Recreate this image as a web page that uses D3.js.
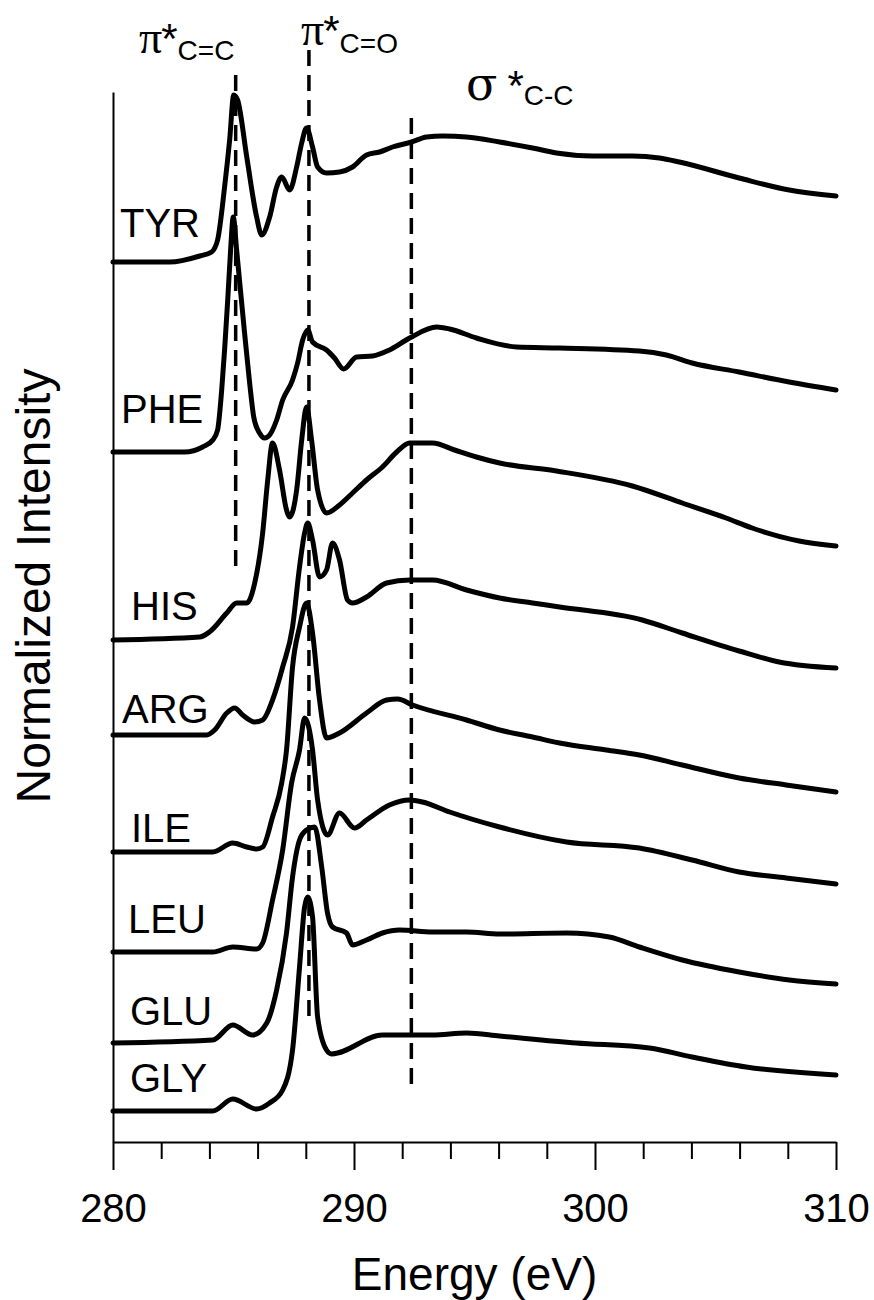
<!DOCTYPE html>
<html>
<head>
<meta charset="utf-8">
<script src="https://cdnjs.cloudflare.com/ajax/libs/d3/7.8.5/d3.min.js"></script>
<style>
  body { margin: 0; background: #fff; }
  text { font-family: "Liberation Sans", Arial, Helvetica, sans-serif; fill: #000; }
</style>
</head>
<body>
<div id="chart"></div>
<script>
// C 1s spectra of amino acids, stacked with a vertical offset
// Each series: [energy (eV), intensity above its own baseline]
const tyr = [
  [280.0, 0.00], [282.35, 0.00], [283.6, 0.06], [284.09, 0.10], [284.34, 0.22],
  [284.63, 0.75], [284.84, 1.22], [285.01, 1.67], [285.17, 1.62], [285.55, 1.05],
  [285.96, 0.45], [286.17, 0.27], [286.5, 0.45], [286.79, 0.75], [287.0, 0.85],
  [287.33, 0.72], [287.62, 0.95], [287.83, 1.19], [288.03, 1.34], [288.28, 1.15],
  [288.49, 0.95], [288.86, 0.89], [289.4, 0.90], [289.94, 0.95], [290.52, 1.07],
  [291.06, 1.10], [291.6, 1.15], [292.39, 1.20], [293.01, 1.25], [293.68, 1.26],
  [294.67, 1.25], [296.04, 1.20], [297.41, 1.14], [298.4, 1.09], [299.9, 1.06],
  [301.55, 1.06], [302.67, 1.04], [303.5, 1.00], [305.98, 0.84], [308.06, 0.72],
  [310.0, 0.66]
];
const phe = [
  [280.0, 0.00], [282.97, 0.00], [283.72, 0.05], [284.14, 0.12], [284.34, 0.22],
  [284.51, 0.62], [284.63, 1.02], [284.76, 1.52], [284.88, 2.02], [284.99, 2.35],
  [285.13, 2.02], [285.26, 1.69], [285.46, 1.19], [285.67, 0.69], [285.84, 0.35],
  [286.08, 0.19], [286.29, 0.14], [286.5, 0.17], [286.79, 0.32], [287.04, 0.52],
  [287.45, 0.72], [287.66, 0.89], [287.87, 1.12], [288.08, 1.22], [288.28, 1.10],
  [288.86, 1.02], [289.19, 0.94], [289.57, 0.83], [290.11, 0.95], [290.77, 0.96],
  [291.47, 1.02], [292.31, 1.14], [293.43, 1.25], [293.97, 1.23], [295.08, 1.14],
  [296.74, 1.05], [298.53, 1.04], [301.84, 1.01], [302.96, 0.97], [304.03, 0.89],
  [305.98, 0.80], [308.06, 0.70], [310.0, 0.62]
];
const his = [
  [280.0, 0.00], [283.6, 0.03], [284.0, 0.08], [284.72, 0.27], [285.13, 0.37],
  [285.55, 0.37], [285.88, 0.57], [286.21, 1.07], [286.42, 1.60], [286.62, 1.97],
  [286.91, 1.70], [287.2, 1.30], [287.33, 1.23], [287.62, 1.50], [287.83, 2.00],
  [288.03, 2.33], [288.24, 2.00], [288.49, 1.50], [288.86, 1.27], [289.4, 1.35],
  [289.94, 1.47], [290.52, 1.60], [291.18, 1.73], [291.77, 1.88], [292.31, 1.97],
  [293.26, 1.97], [294.17, 1.90], [295.08, 1.83], [296.04, 1.77], [298.4, 1.69],
  [301.55, 1.54], [303.62, 1.37], [305.44, 1.22], [306.52, 1.12], [308.47, 0.99],
  [310.0, 0.94]
];
const arg = [
  [280.0, 0.00], [283.89, 0.00], [284.22, 0.05], [284.72, 0.22], [285.05, 0.27],
  [285.38, 0.20], [285.88, 0.13], [286.21, 0.15], [286.62, 0.35], [287.04, 0.68],
  [287.45, 1.08], [287.74, 1.68], [287.95, 2.02], [288.08, 2.12], [288.28, 1.95],
  [288.57, 1.58], [288.86, 1.65], [289.11, 1.92], [289.4, 1.75], [289.73, 1.35],
  [289.94, 1.32], [290.52, 1.38], [291.35, 1.52], [292.31, 1.55], [293.26, 1.55],
  [294.67, 1.45], [296.04, 1.37], [297.41, 1.32], [298.53, 1.28], [301.96, 1.15],
  [303.62, 1.02], [305.98, 0.84], [307.64, 0.73], [310.0, 0.67]
];
const ile = [
  [280.0, 0.00], [284.14, 0.00], [284.97, 0.09], [285.55, 0.05], [285.96, 0.03],
  [286.21, 0.05], [286.62, 0.35], [287.0, 0.69], [287.2, 1.02], [287.45, 1.85],
  [287.74, 2.25], [288.03, 2.49], [288.28, 2.19], [288.57, 1.52], [288.86, 1.14],
  [289.4, 1.19], [290.52, 1.39], [291.35, 1.52], [291.81, 1.53], [292.43, 1.47],
  [294.67, 1.32], [296.04, 1.22], [297.41, 1.15], [298.53, 1.09], [300.47, 1.02],
  [301.84, 0.97], [303.62, 0.87], [305.98, 0.74], [307.93, 0.67], [310.0, 0.60]
];
const leu = [
  [280.0, 0.00], [284.14, 0.00], [284.97, 0.05], [285.96, 0.03], [286.21, 0.09],
  [286.62, 0.52], [287.04, 1.02], [287.41, 1.69], [287.74, 2.02], [287.95, 2.34],
  [288.28, 2.02], [288.49, 1.52], [288.9, 1.17], [289.4, 1.39], [290.02, 1.24],
  [290.52, 1.32], [291.47, 1.47], [292.31, 1.52], [292.84, 1.50], [293.97, 1.40],
  [296.04, 1.25], [298.82, 1.10], [301.84, 1.04], [304.03, 0.92], [305.98, 0.80],
  [307.93, 0.74], [310.0, 0.68]
];
const glu = [
  [280.0, 0.00], [284.14, 0.03], [284.97, 0.18], [285.79, 0.08], [286.38, 0.20],
  [286.79, 0.53], [287.2, 1.10], [287.45, 1.66], [287.74, 2.03], [288.03, 2.13],
  [288.37, 2.16], [288.66, 1.76], [288.9, 1.30], [289.11, 1.16], [289.69, 1.10],
  [289.94, 0.98], [290.52, 1.03], [291.18, 1.10], [291.89, 1.13], [293.26, 1.11],
  [294.67, 1.11], [296.04, 1.09], [298.82, 1.10], [300.59, 1.06], [301.84, 0.96],
  [303.62, 0.83], [305.98, 0.71], [308.06, 0.63], [310.0, 0.59]
];
const gly = [
  [280.0, 0.00], [284.14, 0.00], [284.97, 0.12], [285.96, 0.02], [286.5, 0.08],
  [287.04, 0.21], [287.45, 0.61], [287.74, 1.44], [287.95, 2.04], [288.08, 2.14],
  [288.28, 1.94], [288.49, 0.94], [288.86, 0.61], [289.07, 0.57], [291.18, 0.76],
  [293.26, 0.76], [294.67, 0.78], [296.04, 0.75], [299.23, 0.68], [302.26, 0.63],
  [304.03, 0.54], [306.27, 0.44], [310.0, 0.36]
];

const seriesNames = ["TYR", "PHE", "HIS", "ARG", "ILE", "LEU", "GLU", "GLY"];
const seriesData = [tyr, phe, his, arg, ile, leu, glu, gly];
const seriesOffsets = [8.80, 6.90, 5.02, 4.07, 2.90, 1.90, 0.99, 0.31];

const majorTicks = [280, 290, 300, 310];
const minorTicks = [282, 284, 286, 288, 292, 294, 296, 298, 302, 304, 306, 308];

// Dashed guide lines: energy, top and bottom in intensity units
const guideEnergies = [285.09, 288.13, 292.38];
const guideTops = [10.67, 10.92, 10.24];
const guideBottoms = [5.72, 1.20, 0.54];

// Set up chart dimensions
const margin = { top: 92, right: 38, bottom: 158, left: 113 };
const width = 874 - margin.left - margin.right;
const height = 1300 - margin.top - margin.bottom;
const fontFamily = '"Liberation Sans", Arial, Helvetica, sans-serif';

// Create SVG container
const root = d3
  .select("#chart")
  .append("svg")
  .attr("width", width + margin.left + margin.right)
  .attr("height", height + margin.top + margin.bottom);

const svg = root
  .append("g")
  .attr("transform", `translate(${margin.left},${margin.top})`);

// Create x and y scales
const xScale = d3.scaleLinear().domain([280, 310]).range([0, width]);
const yScale = d3.scaleLinear().domain([0, 10.5]).range([height, 0]);

// Minor ticks (no labels)
svg
  .append("g")
  .attr("transform", `translate(0, ${height})`)
  .call(
    d3.axisBottom(xScale).tickValues(minorTicks).tickSize(17).tickSizeOuter(0).tickFormat("")
  )
  .call((g) => g.select(".domain").remove())
  .selectAll("line")
  .attr("stroke", "#000")
  .attr("stroke-width", 2);

// Major ticks with labels
const xAxis = svg
  .append("g")
  .attr("transform", `translate(0, ${height})`)
  .call(d3.axisBottom(xScale).tickValues(majorTicks).tickSize(28).tickSizeOuter(0));

xAxis.select(".domain").attr("stroke", "#000").attr("stroke-width", 2);
xAxis.selectAll("line").attr("stroke", "#000").attr("stroke-width", 2);
xAxis
  .selectAll("text")
  .attr("y", 80)
  .attr("dy", 0)
  .attr("font-family", fontFamily)
  .attr("font-size", 40)
  .attr("fill", "#000");

// Y axis is a bare line
const yAxis = svg
  .append("g")
  .call(d3.axisLeft(yScale).tickValues([]).tickSizeOuter(0));
yAxis.select(".domain").attr("stroke", "#000").attr("stroke-width", 2);

// Dashed guide lines
svg
  .selectAll(".guide")
  .data(guideEnergies)
  .enter()
  .append("line")
  .attr("class", "guide")
  .attr("x1", (d) => xScale(d))
  .attr("x2", (d) => xScale(d))
  .attr("y1", (d, i) => yScale(guideTops[i]))
  .attr("y2", (d, i) => yScale(guideBottoms[i]))
  .attr("stroke", "#000")
  .attr("stroke-width", 3.5)
  .attr("stroke-dasharray", "16,9");

// Spectra
seriesData.forEach((series, i) => {
  const line = d3
    .line()
    .x((d) => xScale(d[0]))
    .y((d) => yScale(d[1] + seriesOffsets[i]))
    .curve(d3.curveMonotoneX);

  svg
    .append("path")
    .datum(series)
    .attr("d", line)
    .attr("fill", "none")
    .attr("stroke", "#000")
    .attr("stroke-width", 5)
    .attr("stroke-linejoin", "round")
    .attr("stroke-linecap", "round");
});

// Series labels sit just above each baseline
const labelNudge = [[7, -25], [8, -29], [18, -20], [9, -12], [18, -10], [15, -19], [17, -18], [17, -19]];
svg
  .selectAll(".series-label")
  .data(seriesNames)
  .enter()
  .append("text")
  .attr("class", "series-label")
  .attr("x", (d, i) => xScale(280) + labelNudge[i][0])
  .attr("y", (d, i) => yScale(seriesOffsets[i]) + labelNudge[i][1])
  .attr("font-size", 40)
  .text((d) => d);

// Axis titles
svg
  .append("text")
  .attr("x", width / 2)
  .attr("y", 1290 - margin.top)
  .attr("text-anchor", "middle")
  .attr("font-size", 46)
  .text("Energy (eV)");

svg
  .append("text")
  .attr("transform", "rotate(-90)")
  .attr("x", -(586 - margin.top))
  .attr("y", 50 - margin.left)
  .attr("text-anchor", "middle")
  .attr("font-size", 48)
  .text("Normalized Intensity");

// Transition labels above the guide lines
function addTransition(x, y, greek, greekFont, greekSize, gap, sub, subDy) {
  const t = root.append("text").attr("x", x).attr("y", y);
  t.append("tspan")
    .attr("font-family", greekFont)
    .attr("font-size", greekSize)
    .text(greek);
  t.append("tspan").attr("font-size", 42).attr("dx", gap).text("*");
  t.append("tspan").attr("font-size", 28).attr("dy", subDy).text(sub);
}

const serifFont = '"Liberation Serif", "DejaVu Serif", serif';
const sigmaFont = '"DejaVu Serif", "Liberation Serif", serif';
addTransition(139, 53, "π", serifFont, 46, -1, "C=C", 7);
addTransition(301, 45, "π", serifFont, 46, -1, "C=O", 8);
addTransition(466, 100, "σ", sigmaFont, 46, 10, "C-C", 5);
</script>
</body>
</html>
